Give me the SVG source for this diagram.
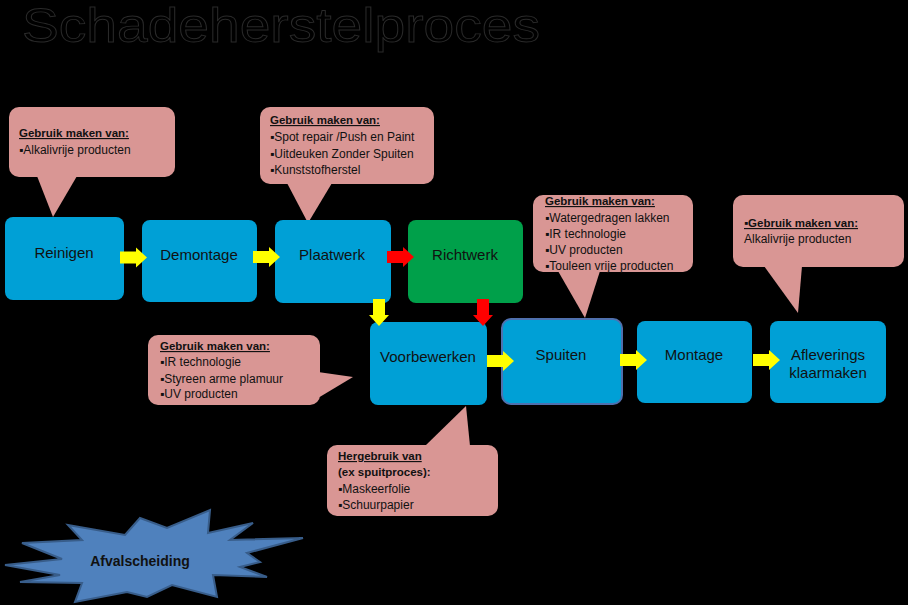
<svg xmlns="http://www.w3.org/2000/svg" xmlns:xlink="http://www.w3.org/1999/xlink" width="908" height="605" viewBox="0 0 908 605">
<style>
.bg{fill:#000}
.box{fill:#00A0D6}
.green{fill:#00A04A}
.call{fill:#D99694}
.lbl{font-family:"Liberation Sans",Arial,sans-serif;font-size:15px;fill:#111;text-anchor:middle}
.ct{font-family:"Liberation Sans",Arial,sans-serif;font-size:12px;fill:#111}
.ch{font-family:"Liberation Sans",Arial,sans-serif;font-size:11.5px;font-weight:bold;fill:#111;text-decoration:underline}
.title{font-family:"Liberation Sans",Arial,sans-serif;font-size:48px;fill:#000;stroke:#2a2a2a;stroke-width:0.9}
.ya{fill:#FFFF00}
.ra{fill:#FF0000}
</style>
<defs>
<polygon id="arr" points="0,-6 16,-6 16,-10 27,0 16,10 16,6 0,6"/>
</defs>
<rect class="bg" x="0" y="0" width="908" height="605"/>
<text class="title" x="22" y="42" textLength="518" lengthAdjust="spacingAndGlyphs">Schadeherstelproces</text>

<g id="callout-reinigen">
<rect class="call" x="9" y="107" width="166" height="70" rx="10"/>
<polygon class="call" points="37,176 77,176 53,217"/>
<text class="ch" x="19" y="137">Gebruik maken van:</text>
<text class="ct" x="19" y="154">▪Alkalivrije producten</text>
</g>
<g id="callout-plaatwerk">
<rect class="call" x="260" y="107" width="174" height="77" rx="10"/>
<polygon class="call" points="287,183 332,183 308,223"/>
<text class="ch" x="270" y="124">Gebruik maken van:</text>
<text class="ct" x="270" y="141">▪Spot repair /Push en Paint</text>
<text class="ct" x="270" y="158">▪Uitdeuken Zonder Spuiten</text>
<text class="ct" x="270" y="174">▪Kunststofherstel</text>
</g>
<g id="callout-spuiten">
<rect class="call" x="533" y="195" width="160" height="77" rx="10"/>
<polygon class="call" points="558,271 600,271 585,318"/>
<text class="ch" x="545" y="205">Gebruik maken van:</text>
<text class="ct" x="545" y="222">▪Watergedragen lakken</text>
<text class="ct" x="545" y="238">▪IR technologie</text>
<text class="ct" x="545" y="254">▪UV producten</text>
<text class="ct" x="545" y="270">▪Touleen vrije producten</text>
</g>
<g id="callout-afleveren">
<rect class="call" x="733" y="195" width="171" height="72" rx="10"/>
<polygon class="call" points="764,266 802,266 798,313"/>
<text class="ch" x="744" y="227">▪Gebruik maken van:</text>
<text class="ct" x="744" y="243">Alkalivrije producten</text>
</g>
<g id="callout-voorbewerken">
<rect class="call" x="148" y="335" width="172" height="70" rx="10"/>
<polygon class="call" points="318,372 353,377 318,398"/>
<text class="ch" x="160" y="350">Gebruik maken van:</text>
<text class="ct" x="160" y="366">▪IR technologie</text>
<text class="ct" x="160" y="383">▪Styreen arme plamuur</text>
<text class="ct" x="160" y="398">▪UV producten</text>
</g>
<g id="callout-hergebruik">
<rect class="call" x="327" y="445" width="171" height="71" rx="10"/>
<polygon class="call" points="425,446 466,406 470,446"/>
<text class="ch" x="338" y="460">Hergebruik van</text>
<text class="ch" x="338" y="476" style="text-decoration:none">(ex spuitproces):</text>
<text class="ct" x="338" y="493">▪Maskeerfolie</text>
<text class="ct" x="338" y="509">▪Schuurpapier</text>
</g>

<g id="reinigen"><rect class="box" x="5" y="217" width="119" height="83" rx="8"/><text class="lbl" x="64" y="258">Reinigen</text></g>
<g id="demontage"><rect class="box" x="142" y="220" width="115" height="82" rx="8"/><text class="lbl" x="199" y="260">Demontage</text></g>
<g id="plaatwerk"><rect class="box" x="275" y="220" width="116" height="83" rx="8"/><text class="lbl" x="332" y="260">Plaatwerk</text></g>
<g id="richtwerk"><rect class="green" x="408" y="220" width="115" height="83" rx="8"/><text class="lbl" x="465" y="260">Richtwerk</text></g>
<g id="voorbewerken"><rect class="box" x="370" y="322" width="117" height="83" rx="8"/><text class="lbl" x="428" y="362">Voorbewerken</text></g>
<g id="spuiten"><rect class="box" x="502" y="319" width="120" height="85" rx="9" stroke="#4F70AE" stroke-width="2"/><text class="lbl" x="561" y="360">Spuiten</text></g>
<g id="montage"><rect class="box" x="637" y="321" width="115" height="82" rx="8"/><text class="lbl" x="694" y="360">Montage</text></g>
<g id="afleveren"><rect class="box" x="770" y="321" width="116" height="82" rx="8"/><text class="lbl" x="828" y="360">Afleverings</text><text class="lbl" x="828" y="378">klaarmaken</text></g>

<g id="connectors">
<use xlink:href="#arr" class="ya" transform="translate(120,257.5)"/>
<use xlink:href="#arr" class="ya" transform="translate(253,257)"/>
<use xlink:href="#arr" class="ra" transform="translate(387,257)"/>
<use xlink:href="#arr" class="ya" transform="translate(379,299) rotate(90)"/>
<use xlink:href="#arr" class="ra" transform="translate(483,299) rotate(90)"/>
<use xlink:href="#arr" class="ya" transform="translate(487,361)"/>
<use xlink:href="#arr" class="ya" transform="translate(620,360)"/>
<use xlink:href="#arr" class="ya" transform="translate(753,360)"/>
</g>

<g id="afvalscheiding">
<polygon points="5,565 62,559 22,543 82,540 68,525 125,535 140,518 167,528 210,510 208,533 253,523 230,540 303,538 247,553 260,562 240,567 267,577 213,575 217,597 172,585 147,597 127,592 75,602 82,583 20,582 60,575" fill="#4F81BD" stroke="#385D8A" stroke-width="2" stroke-linejoin="miter"/>
<text x="140" y="566" font-family="Liberation Sans,Arial,sans-serif" font-size="14" font-weight="bold" fill="#111" text-anchor="middle">Afvalscheiding</text>
</g>
</svg>
